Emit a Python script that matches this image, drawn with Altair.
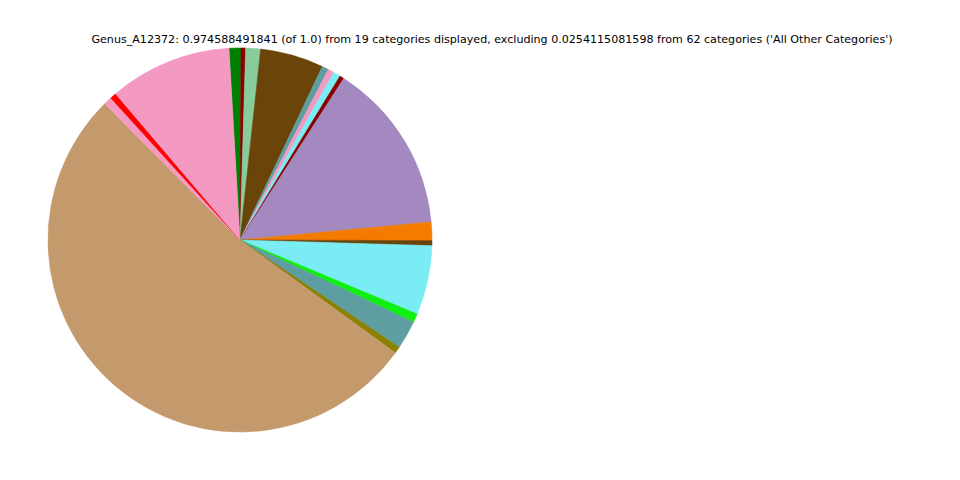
import math
import altair as alt
import pandas as pd

categories = [f"Genus_{i:02d}" for i in range(1, 20)]
values = [0.00975, 0.00379, 0.01218, 0.05198, 0.00541, 0.00487, 0.00596, 0.00352,
          0.14050, 0.01516, 0.00406, 0.05685, 0.00731, 0.02328, 0.00541, 0.51220,
          0.00677, 0.00514, 0.10044]
colors = ["#008000", "#8B0000", "#88CC9C", "#6B4409", "#5F9EA0", "#F49AC2", "#7AECF4",
          "#8B0000", "#A389BF", "#F47A00", "#6B4409", "#7AECF4", "#11EE11", "#5F9EA0",
          "#8B8000", "#C49A6C", "#F49AC2", "#FF0000", "#F49AC2"]

title_text = ("Genus_A12372: 0.974588491841 (of 1.0) from 19 categories displayed, "
              "excluding 0.0254115081598 from 62 categories ('All Other Categories')")

df = pd.DataFrame({"category": categories, "value": values, "idx": list(range(19))})

start = -3.3 * math.pi / 180

pie = alt.Chart(df).mark_arc(outerRadius=192, strokeWidth=0.6).encode(
    theta=alt.Theta("value:Q", stack=True, scale=alt.Scale(range=[start, start + 2 * math.pi])),
    color=alt.Color("category:N", scale=alt.Scale(domain=categories, range=colors), legend=None),
    stroke=alt.Stroke("category:N", scale=alt.Scale(domain=categories, range=colors), legend=None),
    order=alt.Order("idx:Q"),
    x=alt.value(232),
    y=alt.value(232),
)

title = alt.Chart(pd.DataFrame({"t": [title_text]})).mark_text(
    font="DejaVu Sans", fontSize=11.1, color="black", align="center", baseline="alphabetic"
).encode(text="t:N", x=alt.value(484), y=alt.value(35))

chart = alt.layer(pie, title).properties(
    width=944, height=464, padding=0, autosize="none"
).configure_view(stroke=None)

chart.save("out.html", embed_options={"renderer": "svg", "actions": False})
